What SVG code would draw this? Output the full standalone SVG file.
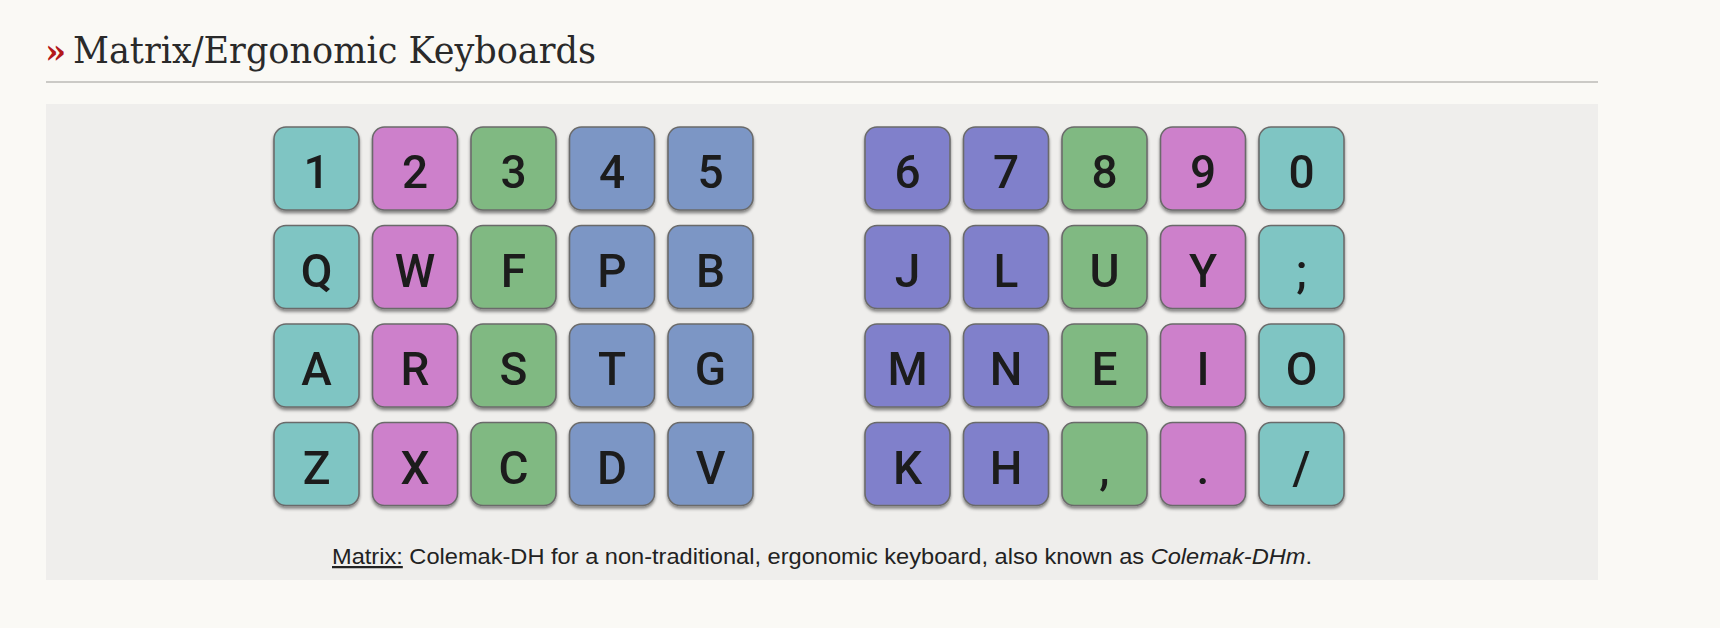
<svg xmlns="http://www.w3.org/2000/svg" width="1720" height="628" viewBox="0 0 1720 628">
<style>
.key rect{stroke:#6b6b6b;stroke-width:1.6}
.key text{font-family:Roboto,"Liberation Sans",sans-serif;font-size:46px;font-weight:500;fill:#1c1c1c;text-anchor:middle}
.teal{fill:#7fc5c3}
.pink{fill:#cd80cb}
.green{fill:#80b982}
.blue{fill:#7b96c5}
.purple{fill:#8080cb}
.cap{font-family:"Liberation Sans",Arial,sans-serif;font-size:22.5px;fill:#222}
</style>
<defs>
<filter id="sh" x="-20%" y="-20%" width="140%" height="150%">
<feDropShadow dx="0" dy="2.5" stdDeviation="1.6" flood-color="#000" flood-opacity="0.45"/>
</filter>
</defs>
<rect x="0" y="0" width="1720" height="628" fill="#faf9f5"/>
<g id="title">
<text x="45" y="63" font-family="'DejaVu Serif',serif" font-size="34" font-weight="bold" fill="#b3181a">»</text>
<text x="73" y="63" font-family="'DejaVu Serif','Liberation Serif',serif" font-size="37" fill="#2a2a2a" textLength="523" lengthAdjust="spacingAndGlyphs">Matrix/Ergonomic Keyboards</text>
<rect x="46" y="81" width="1552" height="2" fill="#cbcac6"/>
</g>
<g id="panel">
<rect x="46" y="104" width="1552" height="476" fill="#efeeec"/>
</g>
<g id="left-hand" filter="url(#sh)">
<g id="k1" class="key"><rect class="teal" x="274" y="127" width="85" height="83" rx="12"/><text x="316.5" y="188">1</text></g>
<g id="k2" class="key"><rect class="pink" x="372.5" y="127" width="85" height="83" rx="12"/><text x="415" y="188">2</text></g>
<g id="k3" class="key"><rect class="green" x="471" y="127" width="85" height="83" rx="12"/><text x="513.5" y="188">3</text></g>
<g id="k4" class="key"><rect class="blue" x="569.5" y="127" width="85" height="83" rx="12"/><text x="612" y="188">4</text></g>
<g id="k5" class="key"><rect class="blue" x="668" y="127" width="85" height="83" rx="12"/><text x="710.5" y="188">5</text></g>
<g id="kQ" class="key"><rect class="teal" x="274" y="225.5" width="85" height="83" rx="12"/><text x="316.5" y="286.5">Q</text></g>
<g id="kW" class="key"><rect class="pink" x="372.5" y="225.5" width="85" height="83" rx="12"/><text x="415" y="286.5">W</text></g>
<g id="kF" class="key"><rect class="green" x="471" y="225.5" width="85" height="83" rx="12"/><text x="513.5" y="286.5">F</text></g>
<g id="kP" class="key"><rect class="blue" x="569.5" y="225.5" width="85" height="83" rx="12"/><text x="612" y="286.5">P</text></g>
<g id="kB" class="key"><rect class="blue" x="668" y="225.5" width="85" height="83" rx="12"/><text x="710.5" y="286.5">B</text></g>
<g id="kA" class="key"><rect class="teal" x="274" y="324" width="85" height="83" rx="12"/><text x="316.5" y="385">A</text></g>
<g id="kR" class="key"><rect class="pink" x="372.5" y="324" width="85" height="83" rx="12"/><text x="415" y="385">R</text></g>
<g id="kS" class="key"><rect class="green" x="471" y="324" width="85" height="83" rx="12"/><text x="513.5" y="385">S</text></g>
<g id="kT" class="key"><rect class="blue" x="569.5" y="324" width="85" height="83" rx="12"/><text x="612" y="385">T</text></g>
<g id="kG" class="key"><rect class="blue" x="668" y="324" width="85" height="83" rx="12"/><text x="710.5" y="385">G</text></g>
<g id="kZ" class="key"><rect class="teal" x="274" y="422.5" width="85" height="83" rx="12"/><text x="316.5" y="483.5">Z</text></g>
<g id="kX" class="key"><rect class="pink" x="372.5" y="422.5" width="85" height="83" rx="12"/><text x="415" y="483.5">X</text></g>
<g id="kC" class="key"><rect class="green" x="471" y="422.5" width="85" height="83" rx="12"/><text x="513.5" y="483.5">C</text></g>
<g id="kD" class="key"><rect class="blue" x="569.5" y="422.5" width="85" height="83" rx="12"/><text x="612" y="483.5">D</text></g>
<g id="kV" class="key"><rect class="blue" x="668" y="422.5" width="85" height="83" rx="12"/><text x="710.5" y="483.5">V</text></g>
</g>
<g id="right-hand" filter="url(#sh)">
<g id="k6" class="key"><rect class="purple" x="865" y="127" width="85" height="83" rx="12"/><text x="907.5" y="188">6</text></g>
<g id="k7" class="key"><rect class="purple" x="963.5" y="127" width="85" height="83" rx="12"/><text x="1006" y="188">7</text></g>
<g id="k8" class="key"><rect class="green" x="1062" y="127" width="85" height="83" rx="12"/><text x="1104.5" y="188">8</text></g>
<g id="k9" class="key"><rect class="pink" x="1160.5" y="127" width="85" height="83" rx="12"/><text x="1203" y="188">9</text></g>
<g id="k0" class="key"><rect class="teal" x="1259" y="127" width="85" height="83" rx="12"/><text x="1301.5" y="188">0</text></g>
<g id="kJ" class="key"><rect class="purple" x="865" y="225.5" width="85" height="83" rx="12"/><text x="907.5" y="286.5">J</text></g>
<g id="kL" class="key"><rect class="purple" x="963.5" y="225.5" width="85" height="83" rx="12"/><text x="1006" y="286.5">L</text></g>
<g id="kU" class="key"><rect class="green" x="1062" y="225.5" width="85" height="83" rx="12"/><text x="1104.5" y="286.5">U</text></g>
<g id="kY" class="key"><rect class="pink" x="1160.5" y="225.5" width="85" height="83" rx="12"/><text x="1203" y="286.5">Y</text></g>
<g id="kSemi" class="key"><rect class="teal" x="1259" y="225.5" width="85" height="83" rx="12"/><text x="1301.5" y="286.5">;</text></g>
<g id="kM" class="key"><rect class="purple" x="865" y="324" width="85" height="83" rx="12"/><text x="907.5" y="385">M</text></g>
<g id="kN" class="key"><rect class="purple" x="963.5" y="324" width="85" height="83" rx="12"/><text x="1006" y="385">N</text></g>
<g id="kE" class="key"><rect class="green" x="1062" y="324" width="85" height="83" rx="12"/><text x="1104.5" y="385">E</text></g>
<g id="kI" class="key"><rect class="pink" x="1160.5" y="324" width="85" height="83" rx="12"/><text x="1203" y="385">I</text></g>
<g id="kO" class="key"><rect class="teal" x="1259" y="324" width="85" height="83" rx="12"/><text x="1301.5" y="385">O</text></g>
<g id="kK" class="key"><rect class="purple" x="865" y="422.5" width="85" height="83" rx="12"/><text x="907.5" y="483.5">K</text></g>
<g id="kH" class="key"><rect class="purple" x="963.5" y="422.5" width="85" height="83" rx="12"/><text x="1006" y="483.5">H</text></g>
<g id="kComma" class="key"><rect class="green" x="1062" y="422.5" width="85" height="83" rx="12"/><text x="1104.5" y="483.5">,</text></g>
<g id="kDot" class="key"><rect class="pink" x="1160.5" y="422.5" width="85" height="83" rx="12"/><text x="1203" y="483.5">.</text></g>
<g id="kSlash" class="key"><rect class="teal" x="1259" y="422.5" width="85" height="83" rx="12"/><text x="1301.5" y="483.5">/</text></g>
</g>
<g id="caption">
<text class="cap" x="332" y="564" textLength="980" lengthAdjust="spacingAndGlyphs"><tspan text-decoration="underline">Matrix:</tspan> Colemak-DH for a non-traditional, ergonomic keyboard, also known as <tspan font-style="italic">Colemak-DHm</tspan>.</text>
</g>
</svg>
